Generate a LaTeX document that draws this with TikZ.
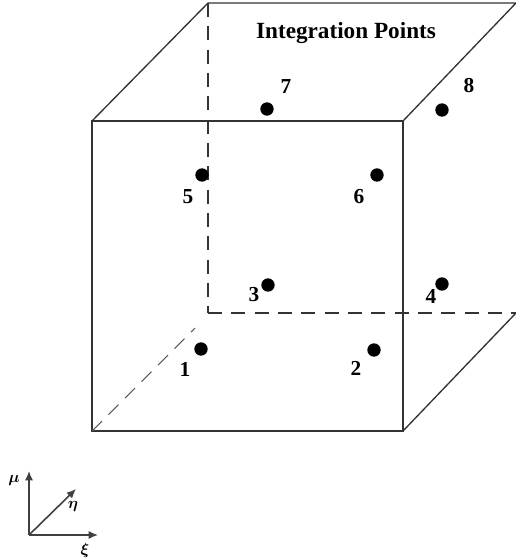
\documentclass[tikz,border=0pt]{standalone}
\usepackage{fontspec}
\setmainfont{Liberation Serif}
\usepackage{amsmath, amssymb}
\usepackage{tikz}
\usetikzlibrary{arrows.meta, positioning}

\begin{document}
\begin{tikzpicture}[
  x=0.75pt, y=-0.75pt,
  edge/.style={line width=1pt, draw=black!80},
  hidden/.style={line width=1pt, draw=black!80, dash pattern=on 10.5pt off 7pt},
  point/.style={circle, fill=black, inner sep=0pt, minimum size=10pt},
  num/.style={font=\bfseries\fontsize{16}{16}\selectfont, inner sep=0pt},
  arrow/.style={-{Latex[length=7pt,width=6pt]}, line width=1.2pt, draw=black!75}
]
\useasboundingbox (0,0) rectangle (516,560);

% Corners
\coordinate (f1) at (92,431);
\coordinate (f2) at (403,431);
\coordinate (f3) at (403,121);
\coordinate (f4) at (92,121);
\coordinate (b1) at (208,313);
\coordinate (b2) at (516,313);
\coordinate (b3) at (516,3);
\coordinate (b4) at (208,3);
\coordinate (d1) at (195,328);

% Edges
\draw[edge] (f1) -- (f2) -- (f3) -- (f4) -- cycle;
\draw[edge] (f4) -- (b4) -- (b3) -- (f3);
\draw[edge] (f2) -- (b2);
\draw[hidden] (b4) -- (b1);
\draw[hidden] (b1) -- (b2);
\draw[hidden, line width=0.8pt, draw=black!65] (f1) -- (d1);

% Points
\node[point] (p1) at (201,349) {};
\node[point] (p2) at (374,350) {};
\node[point] (p3) at (268,285) {};
\node[point] (p4) at (442,284) {};
\node[point] (p5) at (202,175) {};
\node[point] (p6) at (377,175) {};
\node[point] (p7) at (267,109) {};
\node[point] (p8) at (442,110) {};

% Labels
\node[num] (n1) at (185,369) {1};
\node[num] (n2) at (356,368) {2};
\node[num] (n3) at (254,295) {3};
\node[num] (n4) at (431,296) {4};
\node[num] (n5) at (188,197) {5};
\node[num] (n6) at (359,197) {6};
\node[num] (n7) at (286,87) {7};
\node[num] (n8) at (469,86) {8};
\node[font=\bfseries\fontsize{17.4}{17.4}\selectfont, inner sep=0pt] (title) at (346,33) {Integration Points};

% Axes
\coordinate (o) at (29,535);
\node[inner sep=0pt] (mu) at (29,470) {};
\node[inner sep=0pt] (eta) at (77,488) {};
\node[inner sep=0pt] (xi) at (99,535) {};
\draw[arrow] (o) -- (mu);
\draw[arrow] (o) -- (eta);
\draw[arrow] (o) -- (xi);
\node[font=\large, inner sep=0pt] (lmu) at (14,480) {$\boldsymbol{\mu}$};
\node[font=\large, inner sep=0pt] (leta) at (73,506) {$\boldsymbol{\eta}$};
\node[font=\large, inner sep=0pt] (lxi) at (85,550) {$\boldsymbol{\xi}$};
\end{tikzpicture}
\end{document}
